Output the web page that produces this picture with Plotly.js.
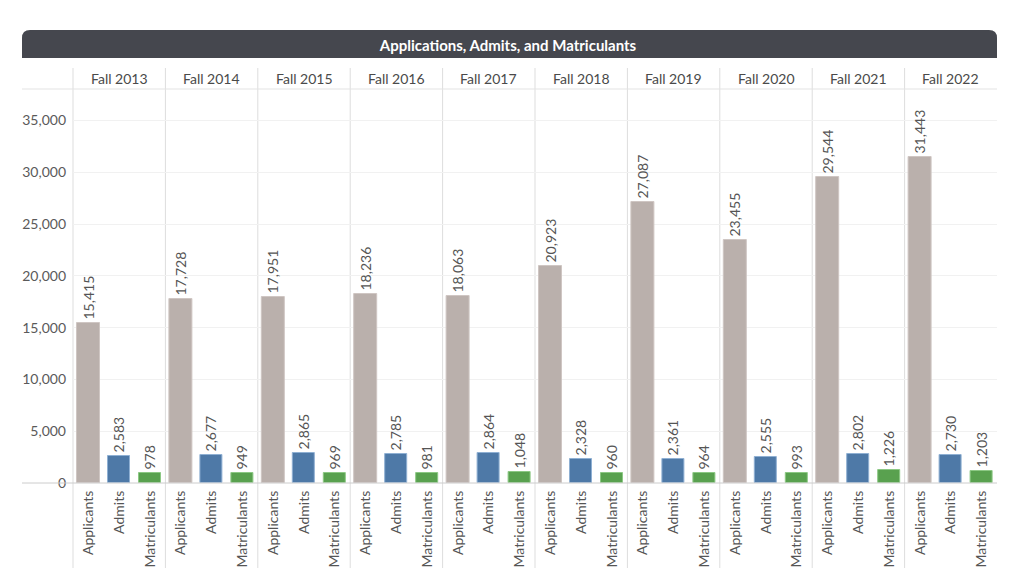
<!DOCTYPE html>
<html>
<head>
<meta charset="utf-8">
<script src="https://cdn.plot.ly/plotly-3.0.1.min.js"></script>
<style>
  html, body { margin: 0; padding: 0; background: #ffffff; }
  #chart { width: 1030px; height: 578px; }
</style>
</head>
<body>
<div id="chart"></div>
<script>
// ---- Data ----
const years = ["Fall 2013", "Fall 2014", "Fall 2015", "Fall 2016", "Fall 2017",
               "Fall 2018", "Fall 2019", "Fall 2020", "Fall 2021", "Fall 2022"];
const categories = ["Applicants", "Admits", "Matriculants"];
const applicants   = [15415, 17728, 17951, 18236, 18063, 20923, 27087, 23455, 29544, 31443];
const admits       = [2583, 2677, 2865, 2785, 2864, 2328, 2361, 2555, 2802, 2730];
const matriculants = [978, 949, 969, 981, 1048, 960, 964, 993, 1226, 1203];
const yTickValues  = [0, 5000, 10000, 15000, 20000, 25000, 30000, 35000];
const chartTitle   = "Applications, Admits, and Matriculants";

// ---- Styling ----
const W = 1030, H = 578;
const px = v => v / W;
const py = v => 1 - v / H;
const FONT = "Lato, 'Open Sans', sans-serif";
const FS = 14;
const barColors  = ["#bab0ac", "#4e79a7", "#59a14f"];
const lineColors = ["#cfc6c3", "#8fb0d3", "#8cc884"];

const plotLeft = 73, plotRight = 997, plotTop = 89, plotBottom = 483;
const panelW = (plotRight - plotLeft) / years.length;

const traces = [];
const layout = {
  width: W, height: H,
  margin: {l: 0, r: 0, t: 0, b: 0, pad: 0},
  paper_bgcolor: "#ffffff",
  plot_bgcolor: "rgba(0,0,0,0)",
  showlegend: false,
  bargap: 0,
  font: {family: FONT, size: FS, color: "#555555"},
  title: {
    text: "<b>" + chartTitle + "</b>",
    x: px(508), xanchor: "center",
    y: py(46), yanchor: "middle",
    font: {family: FONT, size: 15, color: "#ffffff"}
  },
  yaxis: {
    domain: [py(plotBottom), py(plotTop)],
    range: [0, 38040],
    tickvals: yTickValues,
    tickformat: ",",
    tickfont: {family: FONT, size: FS, color: "#5a5a5a"},
    showgrid: true,
    gridcolor: "#f1f1f1",
    gridwidth: 1,
    zeroline: false,
    showline: false,
    ticks: "",
    ticklabelstandoff: 6,
    anchor: "x",
    fixedrange: true
  },
  shapes: [],
  annotations: []
};

years.forEach((yr, i) => {
  const axName = i === 0 ? "x" : "x" + (i + 1);
  const axKey = i === 0 ? "xaxis" : "xaxis" + (i + 1);
  const vals = [applicants[i], admits[i], matriculants[i]];
  traces.push({
    type: "bar",
    x: categories,
    y: vals,
    xaxis: axName,
    yaxis: "y",
    width: 0.73,
    marker: {color: barColors, line: {color: lineColors, width: 1}},
    text: vals.map(v => v.toLocaleString("en-US")),
    textposition: "outside",
    textangle: -90,
    constraintext: "none",
    cliponaxis: false,
    textfont: {family: FONT, size: FS, color: "#555555"},
    hoverinfo: "x+y"
  });
  const x0 = plotLeft + panelW * i, x1 = x0 + panelW;
  layout[axKey] = {
    domain: [px(x0), px(x1)],
    anchor: "y",
    type: "category",
    range: [-0.5, 2.5],
    tickangle: -90,
    tickfont: {family: FONT, size: FS, color: "#555555"},
    showgrid: false,
    zeroline: false,
    showline: false,
    ticks: "",
    ticklabelstandoff: 4,
    fixedrange: true
  };
  // header label
  layout.annotations.push({
    text: yr, xref: "paper", yref: "paper",
    x: px((x0 + x1) / 2), y: py(78),
    xanchor: "center", yanchor: "middle", showarrow: false,
    font: {family: FONT, size: FS, color: "#4a4a4a"}
  });
  // vertical separator
  layout.shapes.push({
    type: "line", xref: "paper", yref: "paper",
    x0: px(x0), x1: px(x0), y0: py(68), y1: py(568),
    line: {color: "#dddddd", width: 1}, layer: "below"
  });
});

// title bar with rounded top corners
(function () {
  const l = px(22), r = px(997), t = py(30), b = py(58);
  const rx = 8 / W, ry = 8 / H;
  layout.shapes.push({
    type: "path", xref: "paper", yref: "paper",
    path: `M ${l},${b} L ${l},${t - ry} Q ${l},${t} ${l + rx},${t} L ${r - rx},${t} Q ${r},${t} ${r},${t - ry} L ${r},${b} Z`,
    fillcolor: "#45474e", line: {width: 0}, layer: "below"
  });
})();

// header bottom line
layout.shapes.push({
  type: "line", xref: "paper", yref: "paper",
  x0: px(22), x1: px(997), y0: py(89), y1: py(89),
  line: {color: "#e3e3e3", width: 1}, layer: "below"
});
// zero / baseline
layout.shapes.push({
  type: "line", xref: "paper", yref: "paper",
  x0: px(22), x1: px(997), y0: py(483), y1: py(483),
  line: {color: "#cccccc", width: 1}, layer: "above"
});

Plotly.newPlot("chart", traces, layout, {displayModeBar: false, responsive: false});
</script>
</body>
</html>
